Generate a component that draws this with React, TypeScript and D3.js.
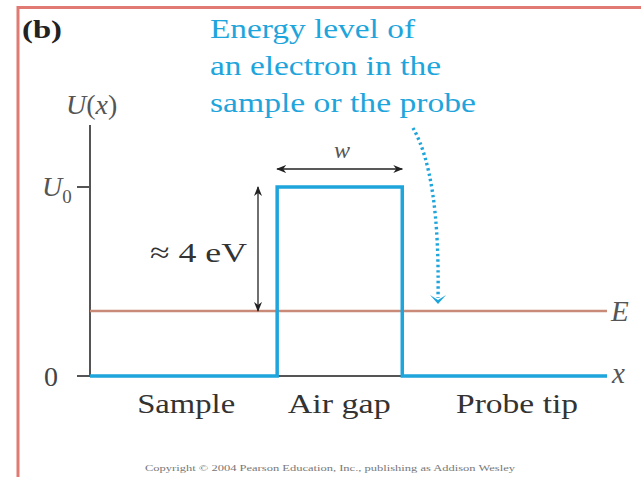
import React, { useEffect, useRef } from 'react';
import * as d3 from 'd3';

// potential profile U(x): position (arbitrary units) and energy (eV)
const profileX = [0, 3.62, 3.62, 6.04, 6.04, 10];
const profileU = [0, 0, 6.1, 6.1, 0, 0];
const fermiE = 2.1;
const barrierU = 6.1;
const regionNames = ['Sample', 'Air gap', 'Probe tip'];
const regionCenters = [1.86, 4.82, 8.26];
const regionWidths = [98, 103, 122];
const calloutLines = ['Energy level of', 'an electron in the', 'sample or the probe'];
const calloutWidths = [205, 231, 266];

const App = () => {
  const ref = useRef<SVGSVGElement>(null);

  useEffect(() => {
    const width = 641;
    const height = 477;
    const svg = d3.select(ref.current);
    svg.selectAll('*').remove();

    const x = d3.scaleLinear().domain([0, 10]).range([90, 607]);
    const y = d3.scaleLinear().domain([0, barrierU]).range([376, 187]);
    const serif = '"Liberation Serif", "DejaVu Serif", serif';
    const blue = '#1ea5dc';

    const defs = svg.append('defs');
    defs.append('marker')
      .attr('id', 'head')
      .attr('viewBox', '0 0 10 10')
      .attr('refX', 9).attr('refY', 5)
      .attr('markerWidth', 10).attr('markerHeight', 10)
      .attr('markerUnits', 'userSpaceOnUse')
      .attr('orient', 'auto-start-reverse')
      .append('path')
      .attr('d', 'M0,1 L10,5 L0,9 L3,5 Z')
      .attr('fill', '#222');

    // frame (top and left edges only)
    svg.append('path')
      .attr('d', `M18,${height} L18,7.5 L${width},7.5`)
      .attr('fill', 'none')
      .attr('stroke', '#e07a72')
      .attr('stroke-width', 3);

    // axes
    svg.append('line')
      .attr('x1', x(0)).attr('x2', x(0))
      .attr('y1', 125).attr('y2', y(0))
      .attr('stroke', '#555').attr('stroke-width', 2);
    svg.append('line')
      .attr('x1', 77).attr('x2', x(10))
      .attr('y1', y(0)).attr('y2', y(0))
      .attr('stroke', '#555').attr('stroke-width', 2);
    svg.append('line')
      .attr('x1', 77).attr('x2', x(0))
      .attr('y1', y(barrierU)).attr('y2', y(barrierU))
      .attr('stroke', '#555').attr('stroke-width', 2);

    // energy level E
    svg.append('line')
      .attr('x1', x(0)).attr('x2', x(10))
      .attr('y1', y(fermiE)).attr('y2', y(fermiE))
      .attr('stroke', '#c98b77').attr('stroke-width', 2.5);

    // potential profile
    const line = d3.line<number>()
      .x((d) => x(d))
      .y((_, i) => y(profileU[i]));
    svg.append('path')
      .datum(profileX)
      .attr('d', line)
      .attr('fill', 'none')
      .attr('stroke', blue)
      .attr('stroke-width', 3.5)
      .attr('stroke-linejoin', 'miter');

    // ≈ 4 eV double arrow
    svg.append('line')
      .attr('x1', 258).attr('x2', 258)
      .attr('y1', y(barrierU)).attr('y2', y(fermiE))
      .attr('stroke', '#222').attr('stroke-width', 1.3)
      .attr('marker-start', 'url(#head)')
      .attr('marker-end', 'url(#head)');

    // w double arrow
    svg.append('line')
      .attr('x1', x(profileX[1])).attr('x2', x(profileX[4]))
      .attr('y1', 169).attr('y2', 169)
      .attr('stroke', '#222').attr('stroke-width', 1.3)
      .attr('marker-start', 'url(#head)')
      .attr('marker-end', 'url(#head)');

    // dotted callout arrow
    const tipX = 438;
    const tipY = y(fermiE) - 7;
    svg.append('path')
      .attr('d', `M413,128 Q440,175 ${tipX},${tipY - 6}`)
      .attr('fill', 'none')
      .attr('stroke', blue)
      .attr('stroke-width', 3.4)
      .attr('stroke-dasharray', '2.4,3');
    svg.append('path')
      .attr('d', `M${tipX - 8},${tipY - 9} L${tipX},${tipY} L${tipX + 8},${tipY - 9} L${tipX},${tipY - 4} Z`)
      .attr('fill', blue);

    const text = (
      tx: number, ty: number, s: string, size: number,
      opts: { anchor?: string; fill?: string; italic?: boolean; bold?: boolean; len?: number } = {}
    ) => {
      const t = svg.append('text')
        .attr('x', tx).attr('y', ty)
        .attr('font-family', serif)
        .attr('font-size', size)
        .attr('text-anchor', opts.anchor || 'start')
        .attr('fill', opts.fill || '#333')
        .attr('font-style', opts.italic ? 'italic' : 'normal')
        .attr('font-weight', opts.bold ? 'bold' : 'normal')
        .text(s);
      if (opts.len) t.attr('textLength', opts.len).attr('lengthAdjust', 'spacingAndGlyphs');
      return t;
    };

    text(22, 38, '(b)', 25, { bold: true, fill: '#222', len: 40 });
    calloutLines.forEach((s, i) =>
      text(210, 38 + i * 37, s, 28, { fill: blue, len: calloutWidths[i] }));

    const ux = text(66, 114, 'U', 28, { italic: true, fill: '#555' });
    ux.append('tspan').attr('font-style', 'normal').text('(');
    ux.append('tspan').text('x');
    ux.append('tspan').attr('font-style', 'normal').text(')');

    const u0 = text(42, y(barrierU) + 9, 'U', 28, { italic: true, fill: '#555' });
    u0.append('tspan').attr('font-style', 'normal').attr('font-size', 19).attr('dy', 7).text('0');

    text(58, y(0) + 10, '0', 28, { anchor: 'end', fill: '#444' });
    text(150, 262, '≈ 4 eV', 28, { fill: '#333', len: 97 });
    text(342, 158, 'w', 24, { anchor: 'middle', italic: true, fill: '#555' });
    text(611, y(fermiE) + 10, 'E', 29, { italic: true, fill: '#555' });
    text(612, y(0) + 7, 'x', 29, { italic: true, fill: '#555' });

    regionNames.forEach((s, i) =>
      text(x(regionCenters[i]) - regionWidths[i] / 2, 413, s, 28, { fill: '#333', len: regionWidths[i] }));

    text(145, 471, 'Copyright © 2004 Pearson Education, Inc., publishing as Addison Wesley', 9, { fill: '#777', len: 370 });
  }, []);

  return (
    <svg
      ref={ref}
      width={641}
      height={477}
      style={{ position: 'absolute', left: 0, top: 0, background: '#fff' }}
    />
  );
};

export default App;
